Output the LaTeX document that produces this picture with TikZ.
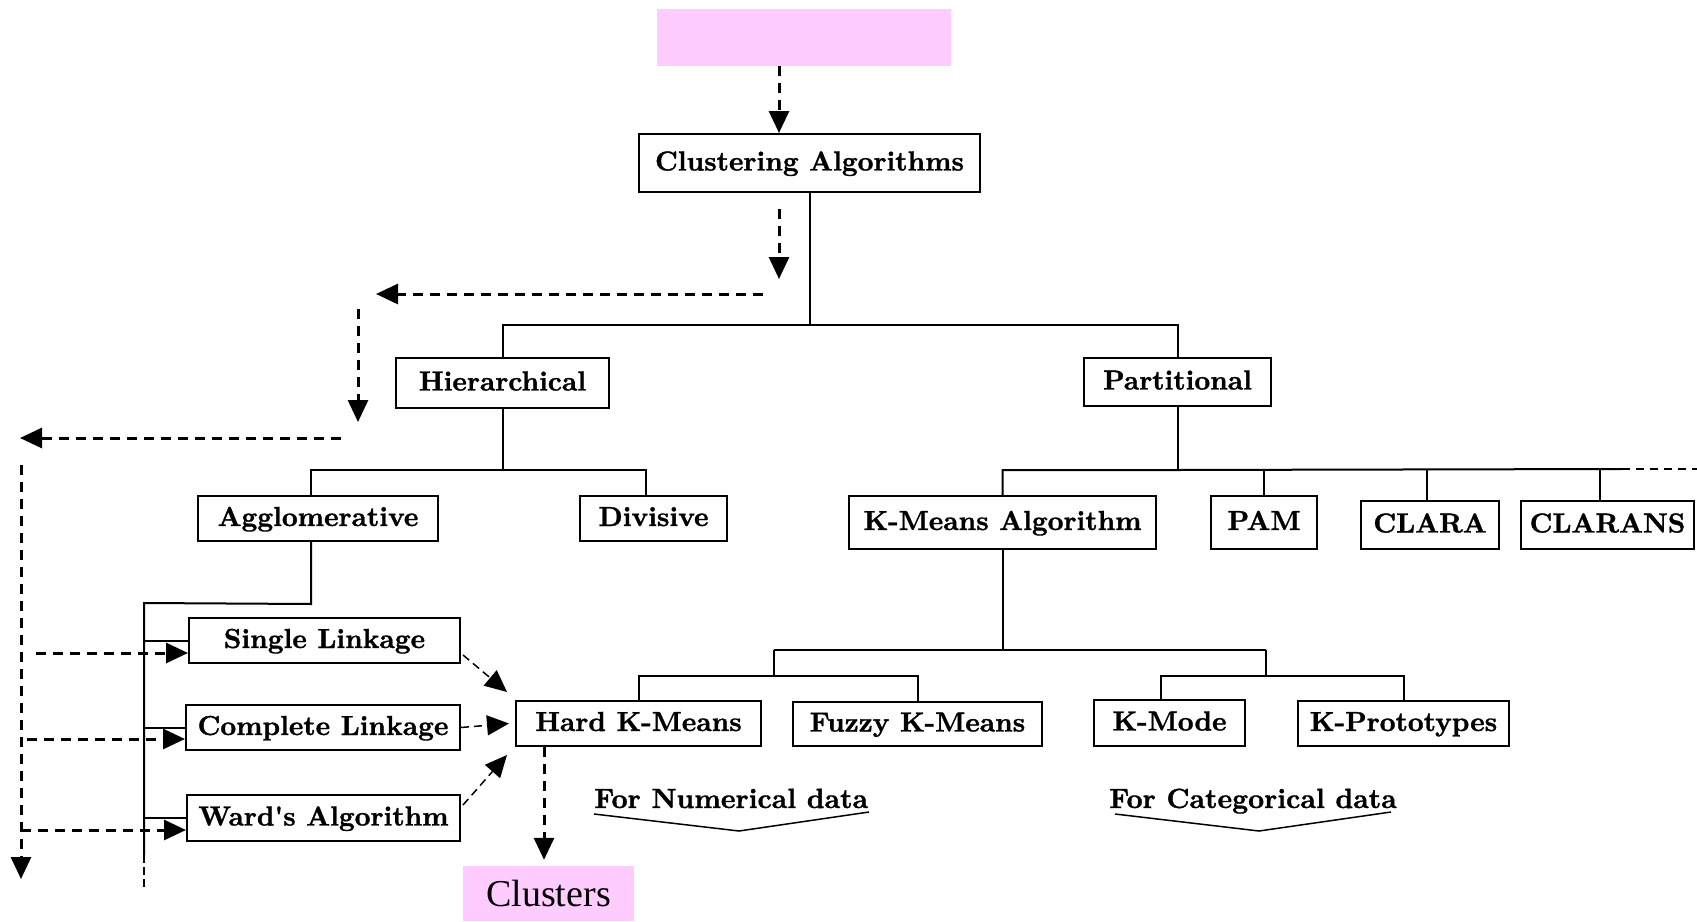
\documentclass[tikz,border=0pt]{standalone}
\usepackage{fontspec}
\newfontfamily\timesfont{Liberation Serif}
\newfontfamily\boxfont{lmroman10-bold.otf}[FakeBold=1.2]
\usetikzlibrary{arrows.meta}
\definecolor{pinkc}{HTML}{FFCCFF}
\begin{document}
\begin{tikzpicture}[x=1pt,y=-1pt,
  box/.style={draw, line width=2pt, inner sep=0pt, font=\boxfont\fontsize{27.5}{32}\selectfont, text height=19pt, text depth=4pt, align=center},
  sz/.style 2 args={minimum width=#1pt, minimum height=#2pt},
  tree/.style={line width=2pt},
  dar/.style={line width=3pt, dash pattern=on 10pt off 7pt, -{Triangle[length=22pt,width=20pt]}},
  dar2/.style={line width=1.5pt, dash pattern=on 8pt off 5pt, -{Triangle[length=22pt,width=20pt]}},
  pinkbox/.style={fill=pinkc, inner sep=0pt},
  lbl/.style={anchor=base west, inner sep=0pt, font=\boxfont\fontsize{27.8}{32}\selectfont}]
\useasboundingbox (0,0) rectangle (1697,921);

% nodes
\node[pinkbox, sz={294}{57}] (top) at (804,37.5) {};
\node[box, sz={341}{58}] (CA) at (809.5,163) {Clustering Algorithms};
\node[box, sz={213}{50}] (Hier) at (502.5,383) {Hierarchical};
\node[box, sz={187}{48}] (Part) at (1177.5,382) {Partitional};
\node[box, sz={240}{45}] (Agg) at (318,518.5) {Agglomerative};
\node[box, sz={147}{45}] (Div) at (653.5,518.5) {Divisive};
\node[box, sz={307}{53}] (KMA) at (1002.5,522.5) {K-Means Algorithm};
\node[box, sz={106}{53}] (PAM) at (1264,522.5) {PAM};
\node[box, sz={138}{48}] (CLARA) at (1430,525) {CLARA};
\node[box, sz={173}{48}] (CLARANS) at (1607.5,525) {CLARANS};
\node[box, sz={271}{45}] (SL) at (324.5,640.5) {Single Linkage};
\node[box, sz={274}{45}] (CL) at (323,727.5) {Complete Linkage};
\node[box, sz={273}{46}] (WA) at (323.5,818) {Ward's Algorithm};
\node[box, sz={245}{45}] (Hard) at (638.5,723.5) {Hard K-Means};
\node[box, sz={249}{44}] (Fuzzy) at (917.5,724) {Fuzzy K-Means};
\node[box, sz={151}{46}] (KMode) at (1169.5,723) {K-Mode};
\node[box, sz={211}{45}] (KProt) at (1403.5,723.5) {K-Prototypes};
\node[pinkbox, sz={171}{55}, font=\timesfont\fontsize{38}{44}\selectfont] (Clusters) at (548.5,893.5) {Clusters};
\node[lbl] (num) at (594,808) {For Numerical data};
\node[lbl] (cat) at (1109,808) {For Categorical data};

% tree connectors
\draw[tree] (CA.south) -- ++(0,132) coordinate (j0);
\draw[tree] (Hier.north) |- (j0) -| (Part.north);
\draw[tree] (Hier.south) -- ++(0,61) coordinate (j1);
\draw[tree] ([xshift=-7pt]Agg.north) |- (j1) -| ([xshift=-7.5pt]Div.north);
\draw[tree] ([xshift=-7pt]Agg.south) -- ++(0,62) coordinate (j2) -- (144,603) coordinate (j3) -- (144,855) coordinate (j4);
\draw[line width=1.5pt, dash pattern=on 8pt off 4pt] (j4) -- (144,888);
\draw[tree] (SL.west) -- (SL.west -| j3);
\draw[tree] (CL.west) -- (CL.west -| j3);
\draw[tree] (WA.west) -- (WA.west -| j3);

\draw[tree] (Part.south) -- ++(0,63) coordinate (j5);
\draw[tree] (KMA.north) |- (j5) -- (1622,469) coordinate (j6);
\draw[line width=1.5pt, dash pattern=on 8pt off 6pt] (j6) -- (1697,469);
\draw[tree] (PAM.north) -- (PAM.north |- j5);
\draw[tree] ([xshift=-3pt]CLARA.north) -- ([xshift=-3pt]CLARA.north |- j5);
\draw[tree] ([xshift=-7.5pt]CLARANS.north) -- ([xshift=-7.5pt]CLARANS.north |- j5);

\draw[tree] (KMA.south) -- ++(0,101) coordinate (j7);
\coordinate (kl) at (774,650);
\coordinate (kr) at (1266,650);
\draw[tree] (kl) -- (kr);
\draw[tree] (kl) -- ++(0,26) coordinate (kl2);
\draw[tree] (Hard.north) |- (kl2) -| (Fuzzy.north);
\draw[tree] (kr) -- ++(0,26) coordinate (kr2);
\draw[tree] ([xshift=-8.5pt]KMode.north) |- (kr2) -| (KProt.north);

% dashed arrows
\draw[dar] ([xshift=-25pt]top.south) -- ([xshift=-30.5pt]CA.north);
\coordinate (c1) at (779,209); \coordinate (c2) at (779,279);
\draw[dar] (c1) -- (c2);
\coordinate (c3) at (763,294); \coordinate (c4) at (376,294);
\draw[dar] (c3) -- (c4);
\coordinate (c5) at (358,309); \coordinate (c6) at (358,422);
\draw[dar] (c5) -- (c6);
\coordinate (c7) at (341,438); \coordinate (c8) at (20,438);
\draw[dar] (c7) -- (c8);
\coordinate (c9) at (21,465); \coordinate (c10) at (21,879);
\draw[dar] (c9) -- (c10);
\coordinate (c11) at (36,653);
\draw[dar] (c11) -- ([yshift=-12.5pt]SL.west);
\coordinate (c12) at (27,739);
\draw[dar] (c12) -- ([yshift=-11.5pt]CL.west);
\coordinate (c13) at (21,830);
\draw[dar] (c13) -- ([yshift=-12pt]WA.west);

\draw[dar2] ([shift={(2pt,9pt)}]SL.south east) -- ([shift={(-8pt,8pt)}]Hard.north west);
\draw[dar2] (CL.east) -- ([xshift=-6pt]Hard.west);
\draw[dar2] ([shift={(2pt,-11pt)}]WA.north east) -- ([shift={(-8pt,-8pt)}]Hard.south west);
\draw[dar] ([xshift=-94.5pt]Hard.south) -- ([shift={(-4.5pt,6pt)}]Clusters.north);

% braces under labels
\draw[line width=1.5pt] (594,814) -- (739,831) -- (869,812);
\draw[line width=1.5pt] (1115,814) -- (1259,831) -- (1391,812);
\end{tikzpicture}
\end{document}
